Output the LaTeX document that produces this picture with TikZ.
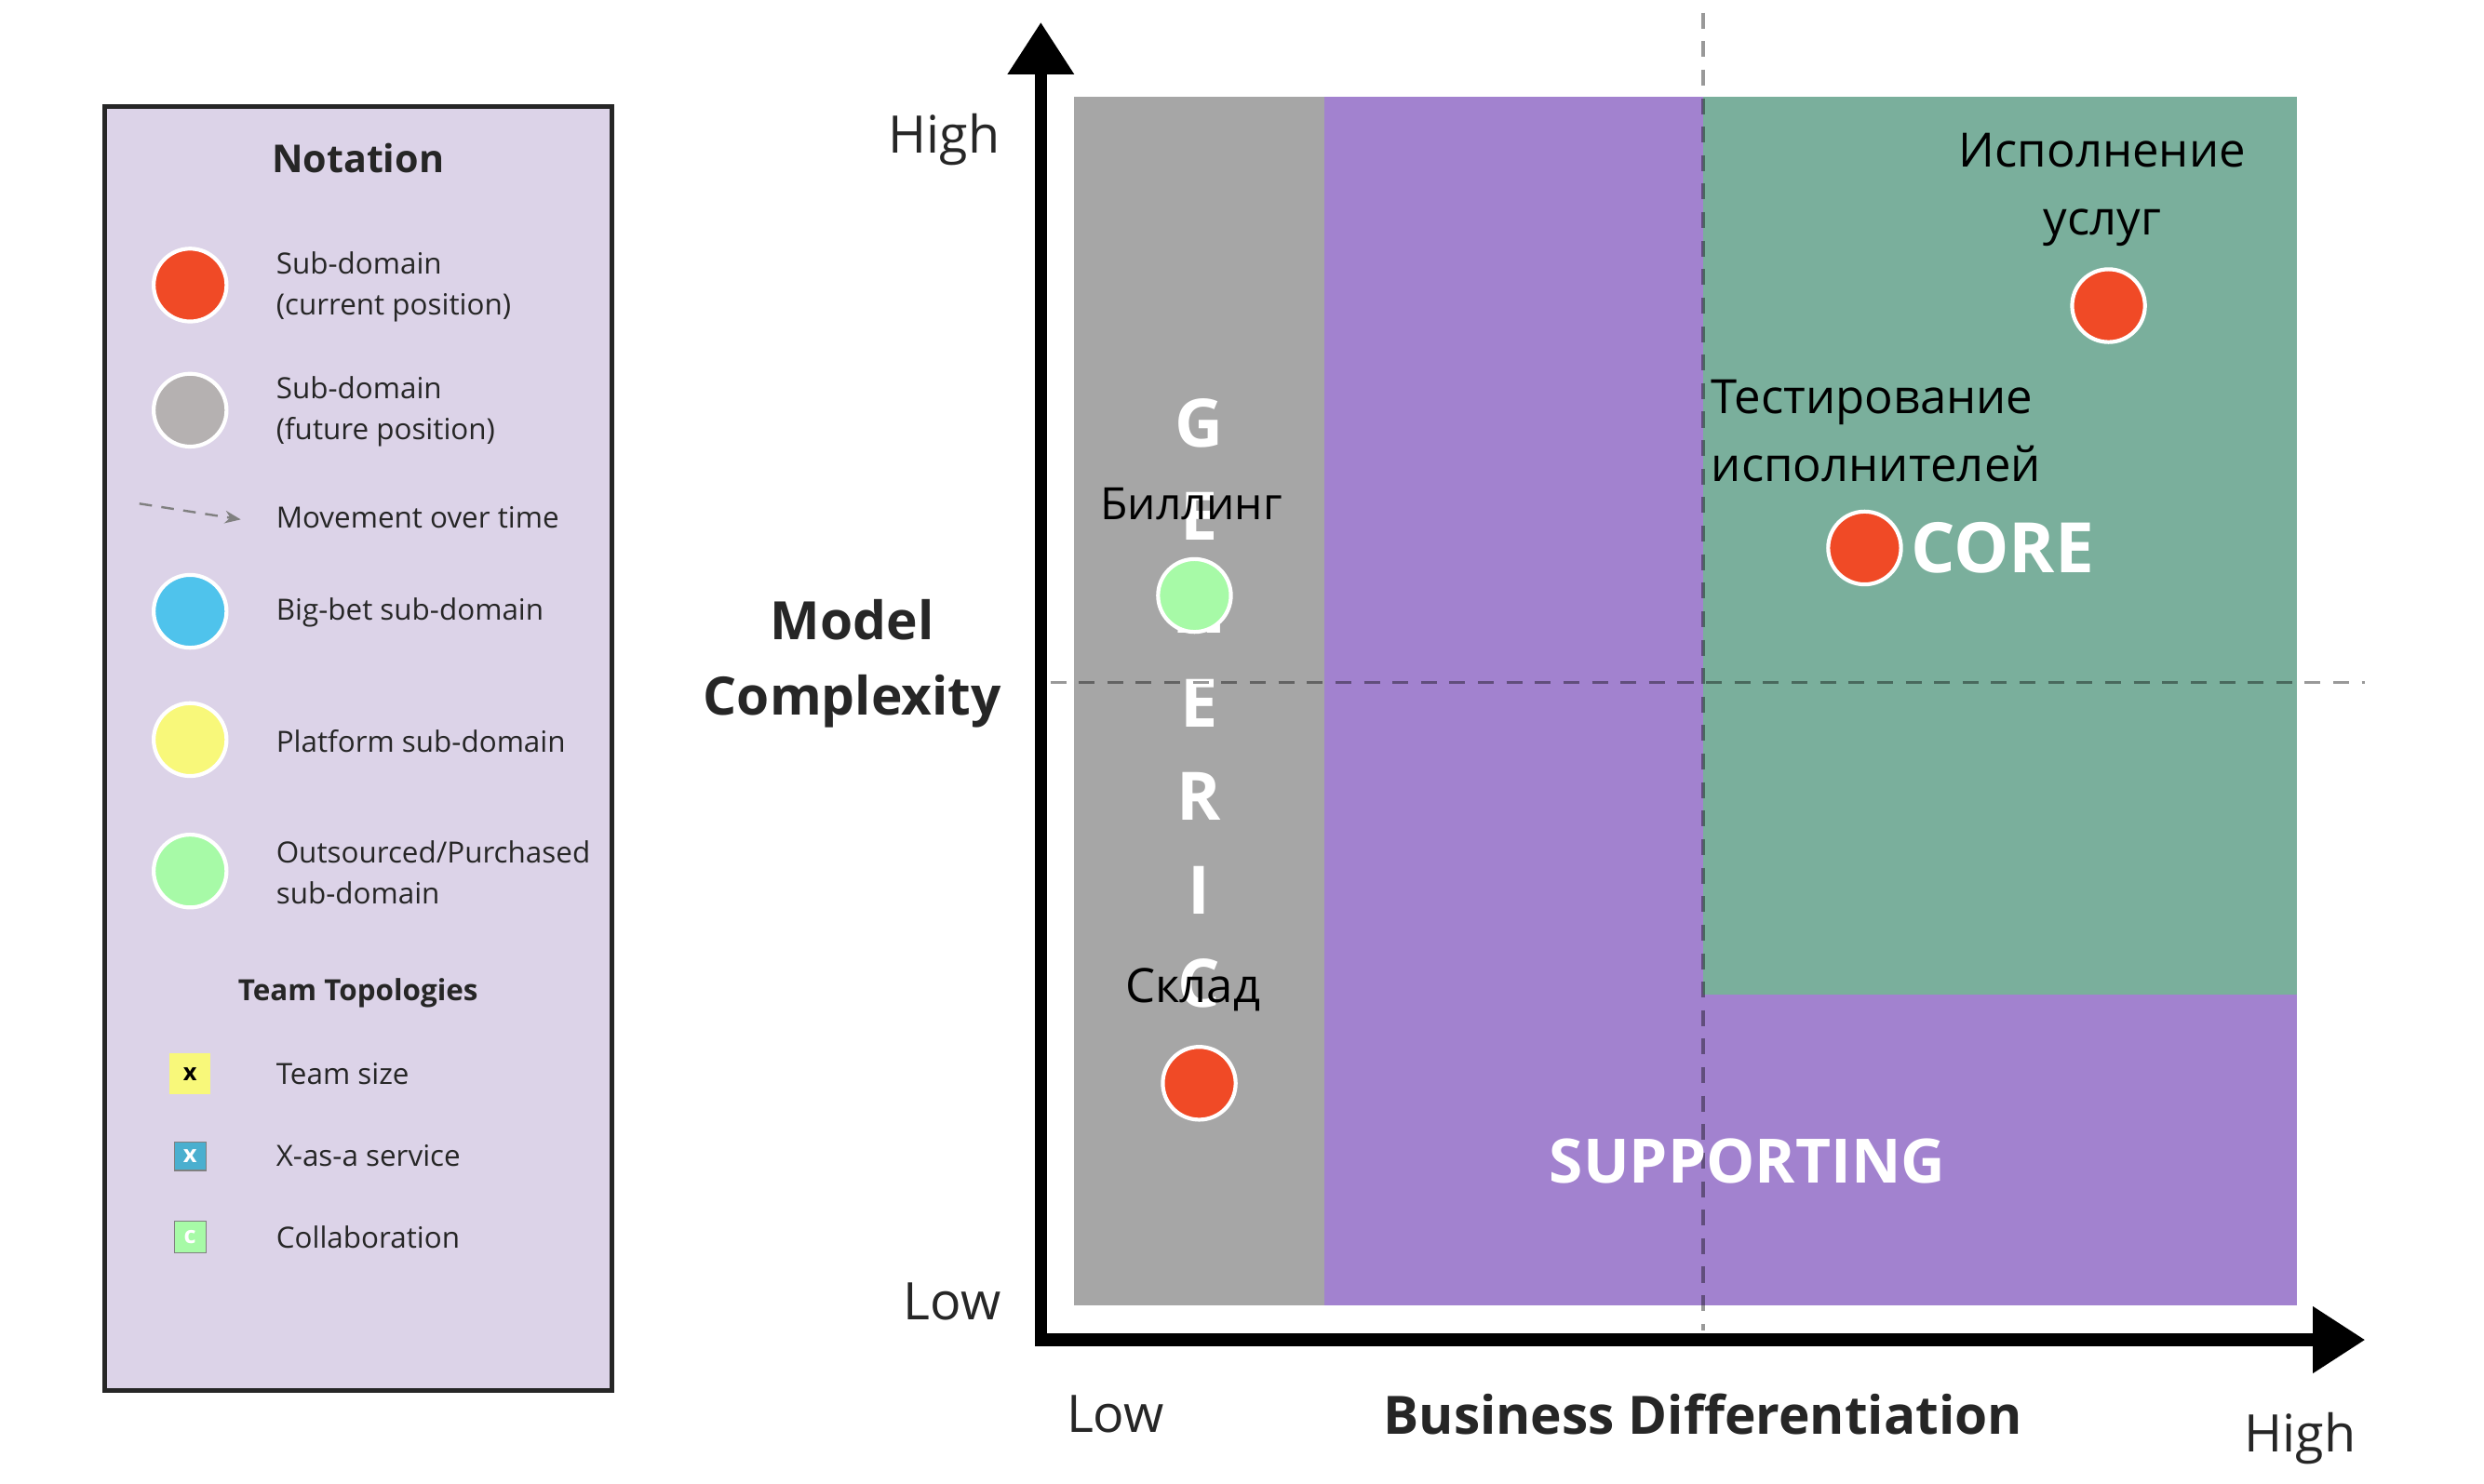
\documentclass[tikz,border=0pt]{standalone}
\usepackage{fontspec}
\setmainfont{Open Sans}
\usetikzlibrary{calc,arrows.meta}

\definecolor{legendbg}{RGB}{220,211,232}
\definecolor{curred}{RGB}{240,74,38}
\definecolor{futgray}{RGB}{181,177,177}
\definecolor{betblue}{RGB}{79,195,236}
\definecolor{platyellow}{RGB}{248,248,122}
\definecolor{outgreen}{RGB}{167,250,167}
\definecolor{xasblue}{RGB}{74,175,207}
\definecolor{genericgray}{RGB}{166,166,166}
\definecolor{supportpurple}{RGB}{162,130,207}
\definecolor{coregreen}{RGB}{122,175,156}

\tikzset{
  dot/.style={circle, minimum size=0.92cm, inner sep=0pt, draw=white, line width=1.4pt},
  legtext/.style={anchor=west, align=left, inner sep=0pt, font=\fontsize{10.5}{14.7}\selectfont, text=black!85},
  legtitle/.style={font=\bfseries\fontsize{13.8}{16}\selectfont, text=black!85},
  sqbox/.style={minimum size=0.4cm, inner sep=0pt, font=\bfseries\fontsize{8.5}{9}\selectfont},
  axislabel/.style={font=\fontsize{18.6}{22}\selectfont, text=black!85},
  axistitle/.style={font=\bfseries\fontsize{19}{27}\selectfont, align=center, text=black!85},
  sublabel/.style={font=\fontsize{17}{24.4}\selectfont},
  zone/.style={font=\bfseries\fontsize{22}{26}\selectfont, text=white},
  divider/.style={black, opacity=0.4, line width=1.1pt, dash pattern=on 0.2cm off 0.16cm},
  axisline/.style={line width=4.5pt, {Triangle[length=0.66cm, width=0.8cm]}-{Triangle[length=0.66cm, width=0.8cm]}}
}

\begin{document}
\begin{tikzpicture}[x=0.02cm, y=-0.02cm]
  \useasboundingbox (0, 0) rectangle (1568, 937);

% legend
  \draw[fill=legendbg, line width=1.7pt, draw=black!85] (66, 67) rectangle (386, 878);
  \draw (226, 100) node[legtitle] (notation) {Notation};

  \draw (120, 180) node[dot, fill=curred] (lcur) {};
  \draw (120, 259) node[dot, fill=futgray] (lfut) {};
  \draw (120, 386) node[dot, fill=betblue] (lbet) {};
  \draw (120, 467) node[dot, fill=platyellow] (lplat) {};
  \draw (120, 550) node[dot, fill=outgreen] (lout) {};

  \draw (174, 181) node[legtext] (tcur) {Sub-domain\\(current position)};
  \draw (174, 260) node[legtext] (tfut) {Sub-domain\\(future position)};
  \draw (174, 327) node[legtext] (tmove) {Movement over time};
  \draw (174, 387) node[legtext] (tbet) {Big-bet sub-domain};
  \draw (174, 468) node[legtext] (tplat) {Platform sub-domain};
  \draw (174, 551) node[legtext] (tout) {Outsourced/Purchased\\sub-domain};

  \coordinate (mvs) at (88, 318);
  \coordinate (mve) at (152, 328);
  \draw[gray, line width=0.8pt, dash pattern=on 0.16cm off 0.12cm, -{Stealth[length=0.2cm, width=0.16cm]}] (mvs) -- (mve);

  \draw (226, 627) node[legtitle, font=\bfseries\fontsize{10.5}{12}\selectfont] (topo) {Team Topologies};

  \draw (120, 678) node[sqbox, minimum size=0.52cm, fill=platyellow] (sqsize) {x};
  \draw (120, 730) node[sqbox, minimum width=0.4cm, minimum height=0.36cm, fill=xasblue, draw=gray, text=white] (sqxas) {x};
  \draw (120, 781) node[sqbox, fill=outgreen, draw=gray, text=white] (sqcol) {c};

  \draw (174, 678) node[legtext] (tsize) {Team size};
  \draw (174, 730) node[legtext] (txas) {X-as-a service};
  \draw (174, 781) node[legtext] (tcol) {Collaboration};

% zones
  \fill[genericgray] (678, 61) rectangle (836, 824);
  \fill[supportpurple] (836, 61) rectangle (1450, 824);
  \fill[coregreen] (1075, 61) rectangle (1450, 628);

  \foreach \ch [count=\k from 0] in {G, E, N, E, R, I, C}{
    \draw (757, 267 + 59*\k) node[zone, font=\bfseries\fontsize{24}{28}\selectfont] (gen\k) {\ch};
  }

  \draw[divider] (1075, 8) -- (1075, 840);
  \draw[divider] (663, 431) -- (1493, 431);

% axes
  \coordinate (ytip) at (657, 14);
  \coordinate (orig) at (657, 846);
  \coordinate (xtip) at (1493, 846);
  \draw[axisline] (ytip) -- (orig) -- (xtip);

  \draw (596, 88) node[axislabel] (yhigh) {High};
  \draw (601, 822) node[axislabel] (ylow) {Low};
  \draw (538, 419) node[axistitle] (ytitle) {Model\\Complexity};
  \draw (704, 893) node[axislabel] (xlow) {Low};
  \draw (1075, 893) node[axistitle] (xtitle) {Business Differentiation};
  \draw (1452, 908) node[axislabel] (xhigh) {High};

% sub-domains
  \draw (752, 318) node[sublabel, font=\fontsize{16}{20}\selectfont] (billing) {Биллинг};
  \draw (754, 376) node[dot, fill=outgreen] (billdot) {};

  \draw (753, 625) node[sublabel] (sklad) {Склад};
  \draw (757, 684) node[dot, fill=curred] (skladdot) {};

  \draw (1327, 120) node[sublabel, align=center] (ispoln) {Исполнение\\услуг};
  \draw (1331, 193) node[dot, fill=curred] (ispolndot) {};

  \draw (1080, 272) node[sublabel, align=left, anchor=west, inner xsep=0pt] (test) {Тестирование\\исполнителей};
  \draw (1177, 346) node[dot, fill=curred] (testdot) {};

  \draw (1264, 346) node[zone, font=\bfseries\fontsize{25}{29}\selectfont] (core) {CORE};
  \draw (1103, 733) node[zone] (supp) {SUPPORTING};
\end{tikzpicture}
\end{document}
